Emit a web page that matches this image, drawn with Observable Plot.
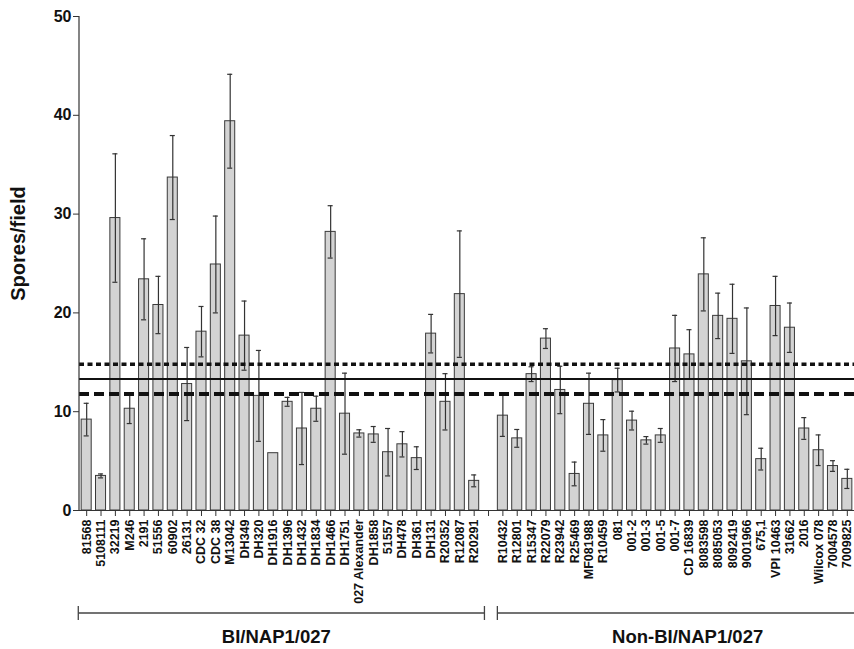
<!DOCTYPE html>
<html><head><meta charset="utf-8">
<script src="https://cdn.jsdelivr.net/npm/d3@7"></script>
<script src="https://cdn.jsdelivr.net/npm/@observablehq/plot@0.6"></script>
<style>body{margin:0;background:#fff}</style>
</head><body><div id="chart"></div>
<script>
// ---- data ----
const biStrains = ["81568","5108111","32219","M246","2191","51556","60902","26131","CDC 32","CDC 38","M13042","DH349","DH320","DH1916","DH1396","DH1432","DH1834","DH1466","DH1751","027 Alexander","DH1858","51557","DH478","DH361","DH131","R20352","R12087","R20291"];
const biMeans = [9.2,3.5,29.6,10.3,23.4,20.8,33.7,12.8,18.1,24.9,39.4,17.7,11.6,5.8,11.0,8.3,10.3,28.2,9.8,7.8,7.7,5.9,6.7,5.3,17.9,11.0,21.9,3.0];
const biSems = [1.65,0.2,6.5,1.5,4.1,2.9,4.25,3.7,2.55,4.9,4.75,3.5,4.6,0,0.45,3.65,1.27,2.65,4.1,0.37,0.8,2.4,1.28,1.15,1.95,2.85,6.4,0.6];
const nonBiStrains = ["R10432","R12801","R15347","R22079","R23942","R25469","MF081988","R10459","081","001-2","001-3","001-5","001-7","CD 16839","8083598","8085053","8092419","9001966","675,1","VPI 10463","31662","2016","Wilcox 078","7004578","7009825"];
const nonBiMeans = [9.6,7.3,13.8,17.4,12.2,3.7,10.8,7.6,13.2,9.1,7.1,7.6,16.4,15.8,23.9,19.7,19.4,15.1,5.2,20.7,18.5,8.3,6.1,4.5,3.2];
const nonBiSems = [2.1,0.9,0.75,1.0,2.4,1.2,3.1,1.6,1.2,0.95,0.38,0.7,3.35,2.5,3.7,2.3,3.5,5.4,1.1,3.0,2.5,1.1,1.55,0.54,0.97];
const gapKey = "";
const groupNames = ["BI/NAP1/027","Non-BI/NAP1/027"];
const groupFirst = ["81568","R10432"];
const groupLast = ["R20291","7009825"];
const refUpper = 14.8;   // dotted
const refMean = 13.3;    // solid
const refLower = 11.8;   // dashed
const yTicks = [0,10,20,30,40,50];
const yTitle = "Spores/field";

// ---- build table ----
const rows = [
  ...biStrains.map((s,i)=>({strain:s, mean:biMeans[i], sem:biSems[i]})),
  ...nonBiStrains.map((s,i)=>({strain:s, mean:nonBiMeans[i], sem:nonBiSems[i]}))
];
const domain = [...biStrains, gapKey, ...nonBiStrains];

const W = 854, H = 649;
const font = "'Liberation Sans', Arial, Helvetica, sans-serif";

function decorations(index, scales) {
  const x = scales.x, y = scales.y;
  const step = x.step ? x.step() : 14.4;
  const bw = x.bandwidth ? x.bandwidth() : 10;
  const cx = k => x(k) + bw / 2;
  const g = d3.create("svg:g");
  const r0 = x.range()[0];
  // y-axis line
  g.append("line").attr("x1", r0).attr("x2", r0).attr("y1", y(0)).attr("y2", y(yTicks[yTicks.length-1]))
    .attr("stroke", "#333").attr("stroke-width", 1.2);
  // group brackets
  const lineY = 613, capH = 7;
  const lefts = [cx(groupFirst[0]) - 0.55*step, cx(groupFirst[1]) - 0.35*step];
  const rights = [cx(groupLast[0]) + 0.75*step, W];
  groupNames.forEach((name, i) => {
    const l = lefts[i], r = rights[i];
    g.append("line").attr("x1", l).attr("x2", r).attr("y1", lineY).attr("y2", lineY)
      .attr("stroke", "#444").attr("stroke-width", 1.3);
    g.append("line").attr("x1", l).attr("x2", l).attr("y1", lineY-capH).attr("y2", lineY+capH)
      .attr("stroke", "#444").attr("stroke-width", 1.3);
    if (r < W) g.append("line").attr("x1", r).attr("x2", r).attr("y1", lineY-capH).attr("y2", lineY+capH)
      .attr("stroke", "#444").attr("stroke-width", 1.3);
    const mid = i === 0 ? (l + r) / 2 - 5 : (l + r) / 2 + 12;
    g.append("text").attr("x", mid).attr("y", 643).attr("text-anchor", "middle")
      .attr("font-family", font).attr("font-weight", "bold").attr("font-size", 18.5).attr("fill", "#111")
      .text(name);
  });
  return g.node();
}

const chart = Plot.plot({
  width: W, height: H,
  marginTop: 16, marginBottom: H - 510, marginLeft: 79, marginRight: 0,
  style: {fontFamily: font, background: "#fff", color: "#111", overflow: "visible"},
  x: {type: "band", domain, range: [79, 854], paddingInner: 0.3, paddingOuter: 0.15, round: false, label: null},
  y: {domain: [0, 50], label: null},
  marks: [
    Plot.barY(rows, {x: "strain", y: "mean", fill: "#d3d3d3", stroke: "#3a3a3a", strokeWidth: 1}),
    Plot.ruleX(rows.filter(d => d.sem > 0), {x: "strain", y1: d => d.mean - d.sem, y2: d => d.mean + d.sem, stroke: "#333", strokeWidth: 1.2}),
    Plot.tickY(rows.filter(d => d.sem > 0), {x: "strain", y: d => d.mean + d.sem, stroke: "#333", strokeWidth: 1.2, insetLeft: 2.5, insetRight: 2.5}),
    Plot.tickY(rows.filter(d => d.sem > 0), {x: "strain", y: d => d.mean - d.sem, stroke: "#333", strokeWidth: 1.2, insetLeft: 2.5, insetRight: 2.5}),
    Plot.ruleY([refUpper], {stroke: "#111", strokeWidth: 3.5, strokeDasharray: "5,3.5"}),
    Plot.ruleY([refMean], {stroke: "#111", strokeWidth: 2}),
    Plot.ruleY([refLower], {stroke: "#111", strokeWidth: 4, strokeDasharray: "10,5"}),
    Plot.ruleY([0], {stroke: "#333", strokeWidth: 1.2}),
    Plot.axisY({ticks: yTicks, tickSize: 6, tickPadding: 2, fontSize: 16, fontWeight: "bold", label: null, stroke: "#333"}),
    Plot.axisX({tickRotate: -90, tickSize: 6, tickPadding: 3, fontSize: 12.5, fontWeight: "bold", label: null, stroke: "#333"}),
    Plot.text([yTitle], {frameAnchor: "left", text: d => d, rotate: -90, textAnchor: "middle", dx: -61, dy: -20, fontSize: 20, fontWeight: "bold", fill: "#111"}),
    decorations
  ]
});
document.getElementById("chart").appendChild(chart);
</script>
</body></html>
